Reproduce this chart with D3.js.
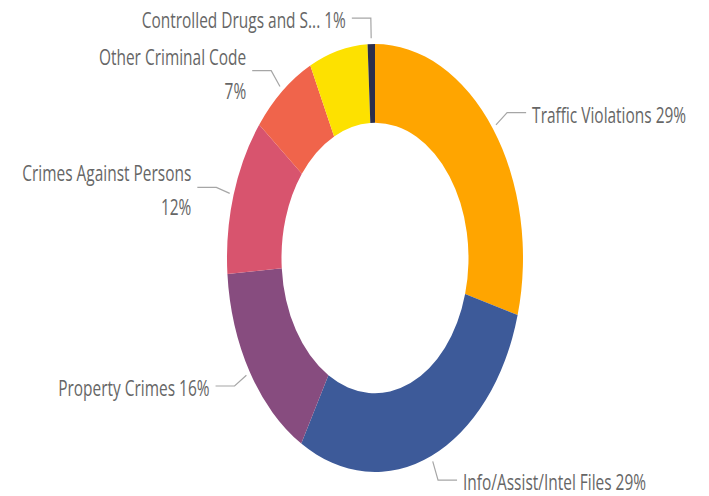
<!DOCTYPE html>
<html>
<head>
<meta charset="utf-8">
<script src="https://cdn.jsdelivr.net/npm/d3@7"></script>
<style>
  body { margin: 0; background: #fff; }
  text { font-family: "Open Sans", sans-serif; fill: #666; }
</style>
</head>
<body>
<div id="chart"></div>
<script>
// slices, clockwise from 12 o'clock
const categories = [
    "Traffic Violations",
    "Info/Assist/Intel Files",
    "Property Crimes",
    "Crimes Against Persons",
    "Other Criminal Code",
    "Provincial Statutes",          // yellow slice, its label is hidden in the original
    "Controlled Drugs and Substances"
];
const values = [29.3, 29.0, 15.5, 11.9, 7.1, 6.4, 0.8];
const colors = ["#FFA500", "#3D5A99", "#874C7F", "#D8546E", "#F0644B", "#FDE100", "#2C2E4C"];
// which labels are drawn and how many lines they use
const labelLines = [1, 1, 1, 2, 2, 0, 1];

const W = 709, H = 496;
const cx = 375, cy = 258;
const k = 1.446;                 // the picture is stretched vertically
const outerR = 148, innerR = 93.5;

const svg = d3.select('#chart')
    .append('svg')
        .attr('width', W)
        .attr('height', H);

const total = d3.sum(values);
const data = categories.map((c, i) => ({name: c, value: values[i], color: colors[i], lines: labelLines[i]}));

const pie = d3.pie()
    .sort(null)
    .value(d => d.value);

const arc = d3.arc()
    .innerRadius(innerR)
    .outerRadius(outerR);

const arcs = pie(data);

const g = svg.append('g')
    .attr('transform', `translate(${cx},${cy}) scale(1,${k})`);

g.selectAll('path')
    .data(arcs)
    .enter().append('path')
    .attr('d', arc)
    .attr('fill', d => d.data.color);

// leader lines + labels (drawn unscaled so the strokes stay thin)
function pt(a, r) {
    return [cx + Math.sin(a) * r, cy - Math.cos(a) * r * k];
}

const labelled = arcs.filter(d => d.data.lines > 0);

const lab = svg.append('g');

labelled.forEach(d => {
    const a = (d.startAngle + d.endAngle) / 2;
    const right = Math.sin(a) >= 0;
    const p1 = pt(a, outerR + 4);
    const p2 = pt(a, outerR + 18);
    const p3 = [p2[0] + (right ? 19 : -19), p2[1]];

    lab.append('polyline')
        .attr('points', [p1, p2, p3].map(p => p.join(',')).join(' '))
        .attr('fill', 'none')
        .attr('stroke', '#a6a6a6')
        .attr('stroke-width', 1.2);

    const pct = Math.round(d.data.value / total * 100) + '%';
    let name = d.data.name;
    if (name.length > 24) name = name.slice(0, 22) + '...';

    const tx = p3[0] + (right ? 6 : -6);
    const anchor = right ? 'start' : 'end';

    const lines = d.data.lines === 1 ? [[name + ' ' + pct, 10]] : [[name, -6], [pct, 28]];
    lines.forEach(([t, dy]) => {
        lab.append('text')
            .attr('transform', `translate(${tx},${p3[1] + dy}) scale(1.03,${k})`)
            .attr('text-anchor', anchor)
            .attr('font-size', 15)
            .text(t);
    });
});
</script>
</body>
</html>
